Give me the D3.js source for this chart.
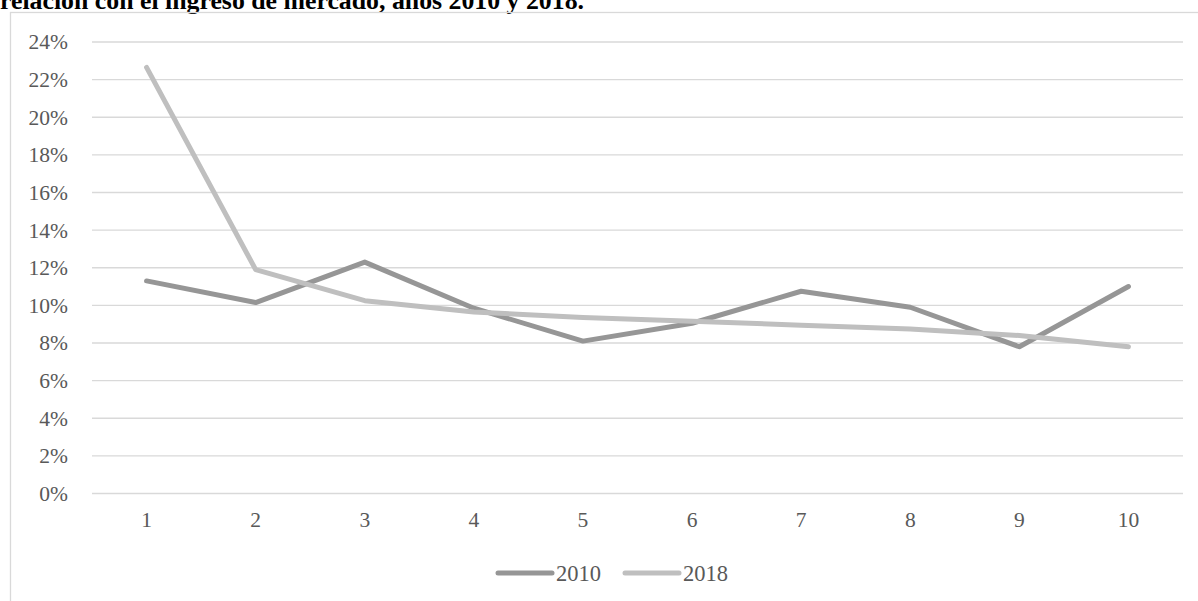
<!DOCTYPE html>
<html>
<head>
<meta charset="utf-8">
<script src="https://cdn.jsdelivr.net/npm/d3@7"></script>
<style>
  html, body { margin: 0; padding: 0; background: #ffffff; overflow: hidden; }
  svg { display: block; }
</style>
</head>
<body>
<svg id="chart" width="1198" height="601"></svg>
<script>
// Deciles and share per decile (%)
const deciles = [1, 2, 3, 4, 5, 6, 7, 8, 9, 10];
const series2010 = [11.3, 10.15, 12.3, 9.85, 8.1, 9.05, 10.75, 9.9, 7.8, 11.0];
const series2018 = [22.65, 11.9, 10.25, 9.65, 9.35, 9.15, 8.95, 8.75, 8.4, 7.8];
const seriesNames = ["2010", "2018"];
const seriesColors = ["#969696", "#bfbfbf"];
const yTicks = [0, 2, 4, 6, 8, 10, 12, 14, 16, 18, 20, 22, 24];
const titleText = "relación con el ingreso de mercado, años 2010 y 2018.";

const svg = d3.select("#chart");
const W = 1198, H = 601;
const plot = { left: 92, right: 1183, top: 42, bottom: 493.5 };
const font = "'Liberation Serif', 'Times New Roman', serif";
const labelSize = 21.5;

// Title (continues above the top edge of the page)
svg.append("text")
  .attr("x", 0)
  .attr("y", 9)
  .attr("font-family", font)
  .attr("font-weight", "bold")
  .attr("font-size", 25.8)
  .attr("fill", "#000")
  .text(titleText);

// Chart frame
svg.append("rect")
  .attr("x", 10.5)
  .attr("y", 12.5)
  .attr("width", W + 20)
  .attr("height", H + 20)
  .attr("fill", "none")
  .attr("stroke", "#d9d9d9")
  .attr("stroke-width", 1.3);

const x = d3.scaleBand().domain(deciles).range([plot.left, plot.right]);
const y = d3.scaleLinear().domain([0, 24]).range([plot.bottom, plot.top]);
const cx = d => x(d) + x.bandwidth() / 2;

// Horizontal gridlines
svg.append("g").selectAll("line")
  .data(yTicks)
  .join("line")
  .attr("x1", plot.left)
  .attr("x2", plot.right)
  .attr("y1", d => y(d))
  .attr("y2", d => y(d))
  .attr("stroke", "#d9d9d9")
  .attr("stroke-width", 1.3);

// Y axis labels
const yAxis = d3.axisLeft(y).tickValues(yTicks).tickFormat(d => d + "%").tickSize(0).tickPadding(24);
const gy = svg.append("g").attr("transform", `translate(${plot.left},0)`).call(yAxis);
gy.select(".domain").remove();
gy.selectAll("text")
  .attr("font-family", font)
  .attr("font-size", labelSize)
  .attr("fill", "#595959");

// X axis labels
const xAxis = d3.axisBottom(x).tickSize(0).tickPadding(18);
const gx = svg.append("g").attr("transform", `translate(0,${plot.bottom})`).call(xAxis);
gx.select(".domain").remove();
gx.selectAll("text")
  .attr("font-family", font)
  .attr("font-size", labelSize)
  .attr("fill", "#595959");

// Lines
const line = d3.line().x((d, i) => cx(deciles[i])).y(d => y(d));
[series2010, series2018].forEach((s, i) => {
  svg.append("path")
    .datum(s)
    .attr("d", line)
    .attr("fill", "none")
    .attr("stroke", seriesColors[i])
    .attr("stroke-width", 5)
    .attr("stroke-linecap", "round")
    .attr("stroke-linejoin", "round");
});

// Legend
const legendY = 573;
const legendX = [498, 625];
seriesNames.forEach((name, i) => {
  const g = svg.append("g").attr("transform", `translate(${legendX[i]},${legendY})`);
  g.append("line")
    .attr("x1", 0).attr("x2", 54)
    .attr("y1", 0).attr("y2", 0)
    .attr("stroke", seriesColors[i])
    .attr("stroke-width", 5)
    .attr("stroke-linecap", "round");
  g.append("text")
    .attr("x", 58)
    .attr("y", 0)
    .attr("dy", "0.35em")
    .attr("font-family", font)
    .attr("font-size", 22.5)
    .attr("fill", "#595959")
    .text(name);
});
</script>
</body>
</html>
